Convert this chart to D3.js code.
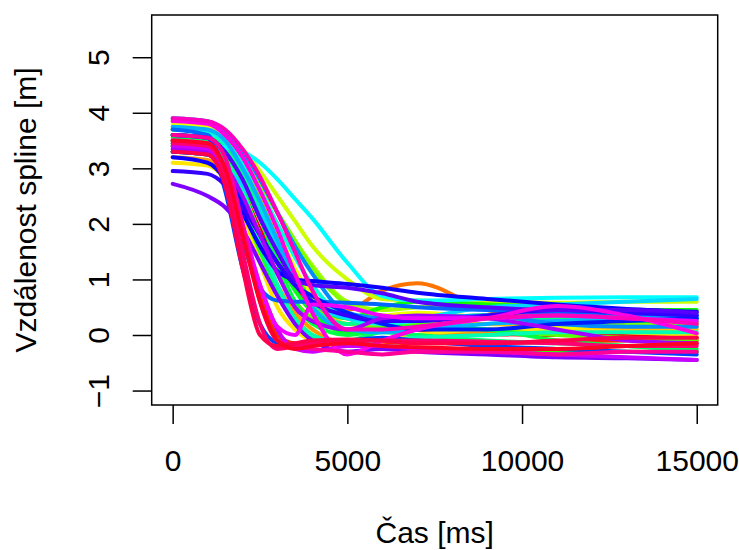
<!DOCTYPE html>
<html>
<head>
<meta charset="utf-8">
<title></title>
<script src="https://cdn.jsdelivr.net/npm/d3@7/dist/d3.min.js"></script>
<style>
  body { margin: 0; background: #fff; }
  text { font-family: "Liberation Sans", Arial, sans-serif; }
  .axis path.domain { display: none; }
  .axis line { stroke: #000; stroke-width: 1.5; }
  .axis text { font-size: 30px; fill: #000; }
</style>
</head>
<body>
<script>
// sample times [ms], shared by all splines
var times = [0, 1000, 1500, 2000, 2500, 3000, 3500, 4000, 5000, 6000, 7000, 9000, 11000, 13000, 15000];

// distance values [m] per recording (drawn in rainbow order)
var s00 = [3.5, 3.45, 3.2, 2.6, 1.9, 1.3, 0.85, 0.55, 0.3, 0.18, 0.1, 0.02, 0.0, -0.02, -0.05];
var s01 = [3.4, 3.35, 3.0, 1.9, 0.7, 0.0, -0.15, -0.12, -0.1, -0.12, -0.15, -0.15, -0.12, -0.1, -0.1];
var s02 = [3.3, 3.25, 3.0, 2.5, 1.8, 1.1, 0.6, 0.3, 0.1, 0.2, 0.1, 0.05, 0.1, 0.15, 0.2];
var s03 = [3.6, 3.55, 3.35, 2.9, 2.3, 1.6, 1.0, 0.6, 0.45, 0.8, 0.93, 0.45, 0.3, 0.25, 0.2];
var s04 = [3.2, 3.15, 2.9, 2.4, 1.6, 0.9, 0.4, 0.1, -0.15, -0.1, 0.0, 0.05, 0.1, 0.15, 0.15];
var s05 = [3.7, 3.65, 3.45, 3.0, 2.5, 1.8, 1.1, 0.6, 0.2, 0.15, 0.2, 0.2, 0.15, 0.1, 0.1];
var s06 = [3.1, 3.05, 2.8, 2.2, 1.3, 0.5, 0.1, -0.1, -0.2, -0.1, 0.0, 0.1, 0.1, 0.05, 0.0];
var s07 = [3.8, 3.75, 3.55, 3.2, 2.6, 1.9, 1.2, 0.7, 0.3, 0.35, 0.4, 0.3, 0.15, 0.2, 0.3];
var s08 = [3.85, 3.8, 3.65, 3.35, 2.95, 2.5, 2.05, 1.6, 1.0, 0.65, 0.62, 0.6, 0.58, 0.6, 0.6];
var s09 = [3.6, 3.55, 3.4, 3.1, 2.7, 2.2, 1.7, 1.25, 0.6, 0.45, 0.5, 0.55, 0.5, 0.45, 0.4];
var s10 = [3.7, 3.65, 3.5, 3.15, 2.7, 2.2, 1.7, 1.2, 0.55, 0.35, 0.3, 0.3, 0.25, 0.2, 0.2];
var s11 = [3.5, 3.45, 3.2, 2.6, 1.8, 1.1, 0.6, 0.3, 0.1, 0.15, 0.2, 0.1, 0.0, -0.05, -0.1];
var s12 = [3.3, 3.25, 3.0, 2.3, 1.5, 0.8, 0.3, 0.0, -0.2, -0.2, -0.25, -0.3, -0.3, -0.3, -0.3];
var s13 = [3.6, 3.55, 3.4, 3.0, 2.4, 1.7, 1.1, 0.6, 0.3, 0.5, 0.6, 0.55, 0.5, 0.45, 0.45];
var s14 = [3.4, 3.35, 3.1, 2.7, 2.1, 1.4, 0.8, 0.4, 0.05, 0.1, 0.3, 0.35, 0.3, 0.25, 0.25];
var s15 = [3.55, 3.5, 3.25, 2.8, 2.1, 1.3, 0.6, 0.2, 0.0, 0.1, 0.15, 0.1, -0.1, -0.2, -0.25];
var s16 = [3.45, 3.4, 3.1, 2.5, 1.6, 0.8, 0.25, -0.05, -0.1, 0.05, 0.0, -0.1, -0.15, -0.2, -0.3];
var s17 = [3.6, 3.55, 3.35, 2.9, 2.3, 1.6, 1.0, 0.5, 0.2, 0.25, 0.3, 0.35, 0.3, 0.3, 0.3];
var s18 = [3.5, 3.45, 3.15, 2.6, 1.7, 0.9, 0.3, 0.0, -0.15, -0.1, -0.05, 0.0, 0.05, 0.05, 0.05];
var s19 = [3.7, 3.65, 3.45, 3.1, 2.6, 2.0, 1.4, 0.9, 0.3, 0.2, 0.25, 0.3, 0.35, 0.35, 0.35];
var s20 = [3.45, 3.42, 3.38, 3.3, 3.1, 2.8, 2.45, 2.1, 1.3, 0.7, 0.62, 0.65, 0.67, 0.68, 0.68];
var s21 = [3.3, 3.25, 3.0, 2.7, 2.2, 1.6, 1.0, 0.6, 0.3, 0.25, 0.3, 0.5, 0.55, 0.6, 0.65];
var s22 = [3.75, 3.7, 3.5, 3.0, 2.4, 1.7, 1.0, 0.5, 0.1, 0.05, 0.1, 0.2, 0.25, 0.3, 0.3];
var s23 = [3.9, 3.85, 3.65, 3.3, 2.8, 2.2, 1.6, 1.1, 0.4, 0.3, 0.3, 0.35, 0.2, 0.15, 0.15];
var s24 = [3.7, 3.6, 2.9, 1.7, 0.85, 0.62, 0.6, 0.6, 0.58, 0.55, 0.5, 0.45, 0.4, 0.38, 0.35];
var s25 = [3.6, 3.55, 2.6, 1.2, 0.2, -0.15, -0.2, -0.15, -0.1, -0.05, -0.1, -0.2, -0.25, -0.3, -0.35];
var s26 = [3.3, 3.25, 3.0, 2.4, 1.8, 1.3, 0.9, 0.7, 0.4, 0.2, 0.1, 0.1, 0.2, 0.25, 0.3];
var s27 = [3.2, 3.1, 2.8, 2.2, 1.6, 1.15, 1.0, 0.97, 0.92, 0.85, 0.76, 0.65, 0.55, 0.47, 0.42];
var s28 = [2.95, 2.9, 2.7, 2.3, 1.8, 1.3, 0.9, 0.6, 0.35, 0.25, 0.25, 0.35, 0.45, 0.4, 0.35];
var s29 = [3.6, 3.55, 3.3, 2.8, 2.1, 1.5, 1.0, 0.9, 0.85, 0.75, 0.6, 0.5, 0.45, 0.45, 0.4];
var s30 = [2.72, 2.5, 2.3, 1.9, 1.3, 0.7, 0.2, -0.1, -0.3, -0.25, -0.3, -0.35, -0.4, -0.42, -0.45];
var s31 = [3.35, 3.3, 3.05, 2.5, 1.8, 1.1, 0.5, 0.25, 0.1, 0.3, 0.35, 0.3, 0.1, -0.1, -0.15];
var s32 = [3.4, 3.35, 2.9, 1.9, 0.9, 0.1, -0.25, -0.3, -0.2, -0.2, -0.25, -0.3, -0.35, -0.4, -0.45];
var s33 = [3.5, 3.45, 3.0, 2.0, 0.9, 0.15, 0.0, 0.55, 0.5, 0.35, 0.3, 0.3, 0.35, 0.3, 0.25];
var s34 = [3.85, 3.8, 3.6, 3.2, 2.6, 1.9, 1.1, 0.4, -0.35, -0.1, 0.1, 0.3, 0.52, 0.35, 0.03];
var s35 = [3.9, 3.85, 3.7, 3.35, 2.85, 2.2, 1.5, 0.8, 0.1, 0.1, 0.15, 0.3, 0.35, 0.3, 0.2];
var s36 = [3.6, 3.55, 3.2, 2.0, 0.6, -0.1, -0.2, -0.25, -0.3, -0.35, -0.3, -0.3, -0.35, -0.3, -0.3];
var s37 = [3.45, 3.4, 2.9, 1.5, 0.2, -0.25, -0.2, -0.15, -0.12, -0.1, -0.1, -0.12, -0.15, -0.2, -0.2];
var s38 = [3.3, 3.25, 2.7, 1.2, 0.0, -0.2, -0.15, -0.1, -0.08, -0.1, -0.15, -0.15, -0.1, -0.05, -0.05];
var s39 = [3.5, 3.45, 3.0, 1.8, 0.6, -0.1, -0.25, -0.2, -0.15, -0.2, -0.22, -0.25, -0.25, -0.2, -0.15];

var series = [s00, s01, s02, s03, s04, s05, s06, s07, s08, s09,
              s10, s11, s12, s13, s14, s15, s16, s17, s18, s19,
              s20, s21, s22, s23, s24, s25, s26, s27, s28, s29,
              s30, s31, s32, s33, s34, s35, s36, s37, s38, s39];

var xTicks = [0, 5000, 10000, 15000];
var yTicks = [-1, 0, 1, 2, 3, 4, 5];

var W = 739, H = 550;
var box = {left: 151.7, right: 717.7, top: 15, bottom: 405};

var svg = d3.select("body").append("svg")
    .attr("width", W)
    .attr("height", H);

// R-style 4% extension around xlim c(0,15000), ylim c(-1,5.5)
var x = d3.scaleLinear().domain([-600, 15600]).range([box.left, box.right]);
var y = d3.scaleLinear().domain([-1.26, 5.76]).range([box.bottom, box.top]);

// rainbow(n) like in R: hsv(h,1,1)
var n = series.length;
function rainbow(i) { return d3.hsl(360 * i / n, 1, 0.5).toString(); }

svg.append("clipPath").attr("id", "plotclip")
  .append("rect")
    .attr("x", box.left).attr("y", box.top)
    .attr("width", box.right - box.left).attr("height", box.bottom - box.top);

var line = d3.line()
    .x(function(d, i) { return x(times[i]); })
    .y(function(d) { return y(d); })
    .curve(d3.curveMonotoneX);

svg.append("g")
    .attr("clip-path", "url(#plotclip)")
  .selectAll("path")
  .data(series)
  .enter()
  .append("path")
    .attr("d", line)
    .attr("fill", "none")
    .attr("stroke", function(d, i) { return rainbow(i); })
    .attr("stroke-width", 4)
    .attr("stroke-linejoin", "round")
    .attr("stroke-linecap", "round");

// x axis
var gx = svg.append("g")
    .attr("class", "axis")
    .attr("transform", "translate(0," + box.bottom + ")")
    .call(d3.axisBottom(x).tickValues(xTicks).tickSize(19).tickFormat(d3.format("d")));
gx.selectAll("text").attr("y", 66).attr("dy", null);

// y axis, labels parallel to the axis
var gy = svg.append("g")
    .attr("class", "axis")
    .attr("transform", "translate(" + box.left + ",0)")
    .call(d3.axisLeft(y).tickValues(yTicks).tickSize(19).tickFormat(d3.format("d")));
gy.selectAll("text")
    .attr("x", null).attr("dy", null)
    .attr("text-anchor", "middle")
    .attr("transform", "translate(-43,0) rotate(-90)");

// frame
svg.append("rect")
    .attr("x", box.left).attr("y", box.top)
    .attr("width", box.right - box.left).attr("height", box.bottom - box.top)
    .attr("fill", "none")
    .attr("stroke", "#000")
    .attr("stroke-width", 1.5);

// axis titles
svg.append("text")
    .attr("x", (box.left + box.right) / 2)
    .attr("y", 543)
    .attr("text-anchor", "middle")
    .style("font-size", "30px")
    .text("Čas [ms]");

svg.append("text")
    .attr("transform", "translate(36," + (box.top + box.bottom) / 2 + ") rotate(-90)")
    .attr("text-anchor", "middle")
    .style("font-size", "30px")
    .text("Vzdálenost spline [m]");
</script>
</body>
</html>
